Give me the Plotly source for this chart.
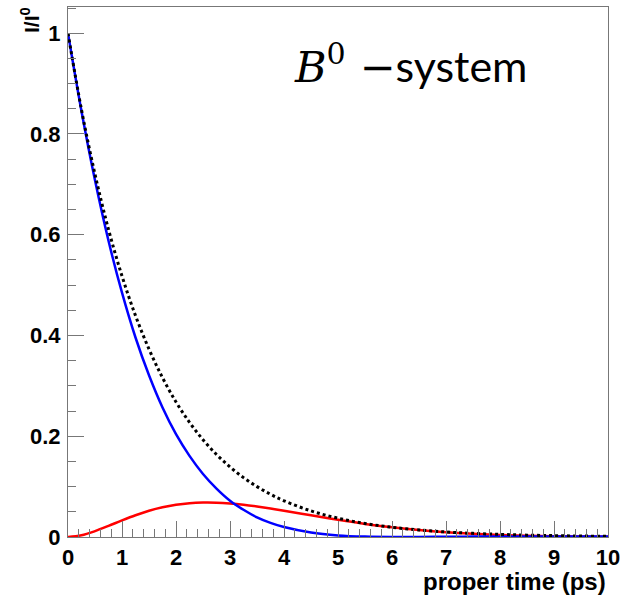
import plotly.graph_objects as go

# proper time (ps)
t = [0, 0.25, 0.5, 0.75, 1, 1.25, 1.5, 1.75, 2, 2.25, 2.5, 2.75, 3, 3.25, 3.5, 3.75,
     4, 4.5, 5, 5.5, 6, 6.5, 7, 7.5, 8, 8.5, 9, 9.5, 10]
# total decay (black dotted)
total = [1.0, 0.848, 0.720, 0.6105, 0.518, 0.4394, 0.373, 0.3162, 0.268, 0.2276, 0.193,
         0.1638, 0.139, 0.1179, 0.100, 0.0848, 0.0719, 0.0518, 0.0373, 0.0268, 0.0193,
         0.0139, 0.0100, 0.0072, 0.0052, 0.0037, 0.0027, 0.0019, 0.0014]
# unmixed (blue)
unmixed = [1.0, 0.845, 0.708, 0.588, 0.485, 0.396, 0.321, 0.257, 0.204, 0.161, 0.125,
           0.096, 0.072, 0.054, 0.039, 0.028, 0.0197, 0.0088, 0.0032, 0.0008, 0.0000,
           0.0001, 0.0005, 0.0008, 0.0011, 0.0012, 0.0012, 0.0011, 0.0010]
# mixed (red)
mixed = [0.0, 0.0034, 0.0117, 0.0221, 0.0329, 0.0431, 0.0520, 0.0589, 0.0639, 0.0671, 0.0684,
         0.0682, 0.0667, 0.0641, 0.0606, 0.0566, 0.0522, 0.0430, 0.0341, 0.0260, 0.0193,
         0.0138, 0.0095, 0.0064, 0.0041, 0.0025, 0.0015, 0.0008, 0.0004]

x_ticks = list(range(0, 11))
y_ticks = [0, 0.2, 0.4, 0.6, 0.8, 1]
y_tick_labels = ["0", "0.2", "0.4", "0.6", "0.8", "1"]

W, H = 626, 596
L, R, T, B = 68, 608, 7, 537

fig = go.Figure()
fig.add_trace(go.Scatter(x=t, y=mixed, mode="lines", line=dict(color="#ff0000", width=2.5, shape="spline"),
                         showlegend=False))
fig.add_trace(go.Scatter(x=t, y=unmixed, mode="lines", line=dict(color="#0000ff", width=2.5, shape="spline"),
                         showlegend=False))
fig.add_trace(go.Scatter(x=t, y=total, mode="lines", line=dict(color="#000000", width=3, dash="dot", shape="spline"),
                         showlegend=False))

tickfont = dict(family="Liberation Sans, Arial, sans-serif", size=22, color="black", weight="bold")
axis_common = dict(showgrid=False, zeroline=False, showline=True, linecolor="#777", linewidth=1.2,
                   mirror=True, ticks="inside", tickcolor="#777", tickwidth=1, tickfont=tickfont,
                   automargin=False)

fig.update_layout(
    width=W, height=H,
    margin=dict(l=L, r=W - R, t=T, b=H - B, autoexpand=False),
    paper_bgcolor="white", plot_bgcolor="white",
    xaxis=dict(range=[0, 10], tickvals=x_ticks, ticklen=16,
               minor=dict(dtick=0.2, ticklen=8, ticks="inside", tickcolor="#777"),
               ticklabelstandoff=0, **axis_common),
    yaxis=dict(range=[0, 1.052], tickvals=y_ticks, ticktext=y_tick_labels, ticklen=16,
               minor=dict(dtick=0.05, ticklen=8, ticks="inside", tickcolor="#777"),
               ticklabelstandoff=2, **axis_common),
)

def px(xp):
    return (xp - L) / (R - L)

def py(yp):
    return (B - yp) / (B - T)

fig.add_annotation(text="proper time (ps)", xref="paper", yref="paper", x=1.0, y=py(597),
                   xanchor="right", yanchor="bottom", showarrow=False,
                   font=dict(family="Liberation Sans, Arial, sans-serif", size=24, color="black", weight="bold"))
fig.add_annotation(text="I/I<sup>0</sup>", xref="paper", yref="paper", x=px(15), y=py(5),
                   xanchor="left", yanchor="top", showarrow=False, textangle=-90,
                   font=dict(family="Liberation Sans, Arial, sans-serif", size=21, color="black", weight="bold"))
fig.add_annotation(
    text="<span style=\"font-family:'DejaVu Serif'\"><i>B</i><sup>0</sup>&nbsp;\u2212</span>system",
    xref="paper", yref="paper", x=px(292), y=py(64),
    xanchor="left", yanchor="middle", showarrow=False,
    font=dict(family="Lato, Open Sans, sans-serif", size=43, color="black"))

fig.write_html("out.html", config={"displayModeBar": False},
               post_script="document.body.style.margin='0px';")
